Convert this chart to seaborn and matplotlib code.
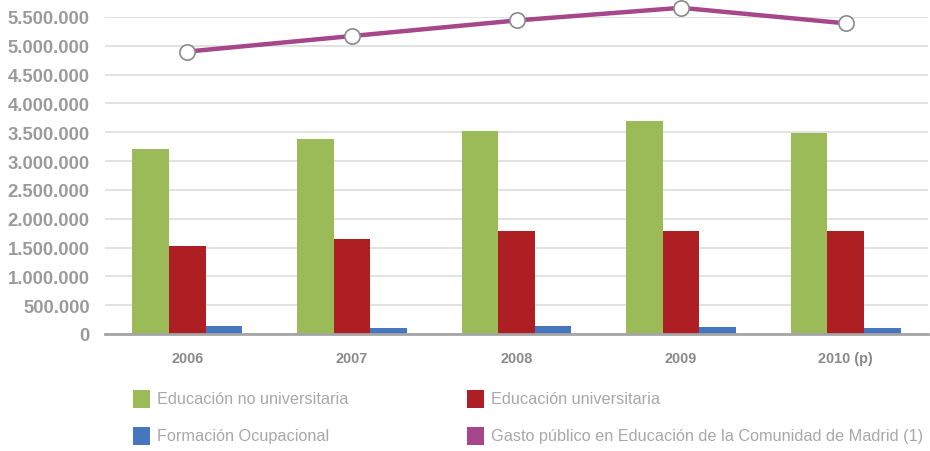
import matplotlib
matplotlib.use("Agg")
import matplotlib.pyplot as plt
from matplotlib.patches import Rectangle
from matplotlib.ticker import FuncFormatter
import seaborn as sns
import pandas as pd
import numpy as np

years = ["2006", "2007", "2008", "2009", "2010 (p)"]
no_universitaria = [3210000, 3390000, 3520000, 3700000, 3480000]
universitaria = [1530000, 1650000, 1780000, 1790000, 1790000]
ocupacional = [145000, 110000, 145000, 127000, 104000]
gasto_total = [4900000, 5170000, 5440000, 5660000, 5390000]

series_names = ["Educación no universitaria", "Educación universitaria", "Formación Ocupacional"]
line_name = "Gasto público en Educación de la Comunidad de Madrid (1)"
colors = ["#9BBB59", "#AE1F23", "#4677BE"]
line_color = "#A5478A"

df = pd.DataFrame({
    "year": years * 3,
    "serie": [series_names[0]] * 5 + [series_names[1]] * 5 + [series_names[2]] * 5,
    "value": no_universitaria + universitaria + ocupacional,
})

sns.set_theme(style="white")
plt.rcParams["font.family"] = ["Liberation Sans", "DejaVu Sans"]

W, H = 930, 452
fig = plt.figure(figsize=(W / 100, H / 100), dpi=100)
ax = fig.add_axes([105 / W, (H - 335) / H, (928 - 105) / W, (335 - 18) / H])

sns.barplot(data=df, x="year", y="value", hue="serie", order=years,
            hue_order=series_names, palette=colors, width=0.667, gap=0,
            saturation=1, ax=ax, legend=False, zorder=2, linewidth=0,
            edgecolor="none")

ax.plot(range(len(years)), gasto_total, color=line_color, lw=3.2, zorder=4,
        clip_on=False, solid_capstyle="round")
ax.plot(range(len(years)), gasto_total, ls="none", marker="o", ms=11,
        mfc="white", mec="#8A8A8A", mew=1.2, zorder=5, clip_on=False)

ax.set_xlim(-0.5, 4.5)
ax.set_ylim(0, 5500000)
ax.set_yticks(np.arange(0, 5500001, 500000))
ax.yaxis.set_major_formatter(FuncFormatter(lambda v, p: f"{int(v):,}".replace(",", ".")))
ax.grid(axis="y", color="#DDDDDD", lw=1.2, zorder=0)
ax.set_axisbelow(True)
for s in ["top", "right", "left"]:
    ax.spines[s].set_visible(False)
ax.spines["bottom"].set_color("#A5A5A5")
ax.spines["bottom"].set_linewidth(2)
ax.spines["bottom"].set_zorder(6)
ax.set_xlabel("")
ax.set_ylabel("")
ax.tick_params(axis="y", length=0, pad=11, labelsize=13.3, labelcolor="#9A9A9A")
ax.tick_params(axis="x", length=0, pad=12, labelsize=10.4, labelcolor="#8A8A8A")
for lab in ax.get_yticklabels() + ax.get_xticklabels():
    lab.set_fontweight("bold")

# legend
legend_items = [
    (series_names[0], colors[0], 133, 400),
    (series_names[1], colors[1], 467, 400),
    (series_names[2], colors[2], 133, 437),
    (line_name, line_color, 467, 437),
]
for label, col, x, yc in legend_items:
    fig.patches.append(Rectangle((x / W, (H - yc - 9) / H), 17 / W, 18 / H,
                                 transform=fig.transFigure, facecolor=col,
                                 edgecolor="none"))
    fig.text((x + 24) / W, (H - yc) / H, label, ha="left", va="center",
             fontsize=11.7, color="#A8A8A8",
             family=["Liberation Sans", "DejaVu Sans"])

fig.savefig("out.png", dpi=100)
